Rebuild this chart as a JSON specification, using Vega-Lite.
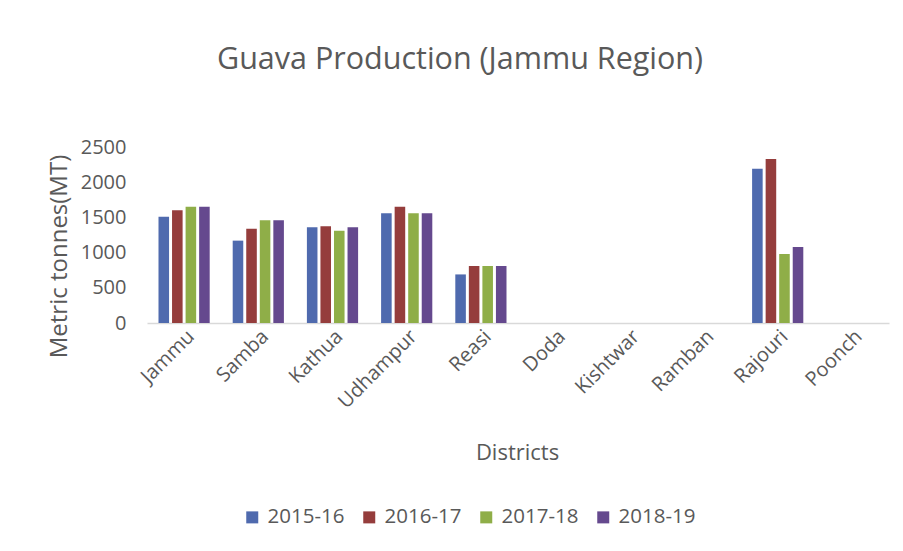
{
  "$schema": "https://vega.github.io/schema/vega-lite/v6.json",
  "width": 742,
  "height": 176,
  "autosize": {"type": "none"},
  "padding": {"left": 147, "top": 147, "right": 14, "bottom": 228},
  "background": "white",
  "title": {
    "text": "Guava Production (Jammu Region)",
    "fontSize": 30.5,
    "font": "Open Sans",
    "fontWeight": "normal",
    "color": "#595959",
    "anchor": "middle",
    "dx": -58,
    "offset": 62
  },
  "data": {
    "values": [
      {"district": "Jammu", "year": "2015-16", "value": 1510},
      {"district": "Jammu", "year": "2016-17", "value": 1600},
      {"district": "Jammu", "year": "2017-18", "value": 1650},
      {"district": "Jammu", "year": "2018-19", "value": 1650},
      {"district": "Samba", "year": "2015-16", "value": 1170},
      {"district": "Samba", "year": "2016-17", "value": 1340},
      {"district": "Samba", "year": "2017-18", "value": 1460},
      {"district": "Samba", "year": "2018-19", "value": 1460},
      {"district": "Kathua", "year": "2015-16", "value": 1360},
      {"district": "Kathua", "year": "2016-17", "value": 1375},
      {"district": "Kathua", "year": "2017-18", "value": 1310},
      {"district": "Kathua", "year": "2018-19", "value": 1360},
      {"district": "Udhampur", "year": "2015-16", "value": 1560},
      {"district": "Udhampur", "year": "2016-17", "value": 1650},
      {"district": "Udhampur", "year": "2017-18", "value": 1560},
      {"district": "Udhampur", "year": "2018-19", "value": 1560},
      {"district": "Reasi", "year": "2015-16", "value": 690},
      {"district": "Reasi", "year": "2016-17", "value": 810},
      {"district": "Reasi", "year": "2017-18", "value": 810},
      {"district": "Reasi", "year": "2018-19", "value": 810},
      {"district": "Doda", "year": "2015-16", "value": 0},
      {"district": "Doda", "year": "2016-17", "value": 0},
      {"district": "Doda", "year": "2017-18", "value": 0},
      {"district": "Doda", "year": "2018-19", "value": 0},
      {"district": "Kishtwar", "year": "2015-16", "value": 0},
      {"district": "Kishtwar", "year": "2016-17", "value": 0},
      {"district": "Kishtwar", "year": "2017-18", "value": 0},
      {"district": "Kishtwar", "year": "2018-19", "value": 0},
      {"district": "Ramban", "year": "2015-16", "value": 0},
      {"district": "Ramban", "year": "2016-17", "value": 0},
      {"district": "Ramban", "year": "2017-18", "value": 0},
      {"district": "Ramban", "year": "2018-19", "value": 0},
      {"district": "Rajouri", "year": "2015-16", "value": 2190},
      {"district": "Rajouri", "year": "2016-17", "value": 2330},
      {"district": "Rajouri", "year": "2017-18", "value": 980},
      {"district": "Rajouri", "year": "2018-19", "value": 1080},
      {"district": "Poonch", "year": "2015-16", "value": 0},
      {"district": "Poonch", "year": "2016-17", "value": 0},
      {"district": "Poonch", "year": "2017-18", "value": 0},
      {"district": "Poonch", "year": "2018-19", "value": 0}
    ]
  },
  "mark": {"type": "bar"},
  "encoding": {
    "x": {
      "field": "district",
      "type": "nominal",
      "sort": ["Jammu", "Samba", "Kathua", "Udhampur", "Reasi", "Doda", "Kishtwar", "Ramban", "Rajouri", "Poonch"],
      "scale": {"paddingInner": 0.31, "paddingOuter": 0.155},
      "axis": {
        "title": "Districts",
        "titleFont": "Open Sans",
        "titleFontSize": 22,
        "titleFontWeight": "normal",
        "titleColor": "#595959",
        "titleX": 370,
        "titleY": 136,
        "titleAlign": "center",
        "titleBaseline": "alphabetic",
        "labelAngle": -45,
        "labelFont": "Open Sans",
        "labelFontSize": 20,
        "labelColor": "#595959",
        "labelPadding": 3,
        "ticks": false,
        "domainColor": "#d9d9d9",
        "domainWidth": 1.5
      }
    },
    "xOffset": {
      "field": "year",
      "type": "nominal",
      "scale": {"paddingInner": 0.22}
    },
    "y": {
      "field": "value",
      "type": "quantitative",
      "scale": {"domain": [0, 2500]},
      "axis": {
        "values": [0, 500, 1000, 1500, 2000, 2500],
        "format": "d",
        "grid": false,
        "domain": false,
        "ticks": false,
        "labelFont": "Open Sans",
        "labelFontSize": 20,
        "labelColor": "#595959",
        "labelPadding": 21,
        "title": "Metric tonnes(MT)",
        "titleFont": "Open Sans",
        "titleFontSize": 24,
        "titleFontWeight": "normal",
        "titleColor": "#595959",
        "titleAngle": -90,
        "titleX": -88,
        "titleY": 109,
        "titleAlign": "center",
        "titleBaseline": "middle"
      }
    },
    "color": {
      "field": "year",
      "type": "nominal",
      "scale": {
        "domain": ["2015-16", "2016-17", "2017-18", "2018-19"],
        "range": ["#4f6aae", "#953d3c", "#8fae48", "#65498e"]
      },
      "legend": {
        "title": null,
        "orient": "none",
        "legendX": 95,
        "legendY": 360,
        "direction": "horizontal",
        "symbolType": "square",
        "symbolSize": 144,
        "symbolStrokeWidth": 0,
        "labelFont": "Open Sans",
        "labelFontSize": 20.5,
        "labelColor": "#595959",
        "labelOffset": 5,
        "columnPadding": 14
      }
    }
  },
  "config": {"view": {"stroke": null}}
}
